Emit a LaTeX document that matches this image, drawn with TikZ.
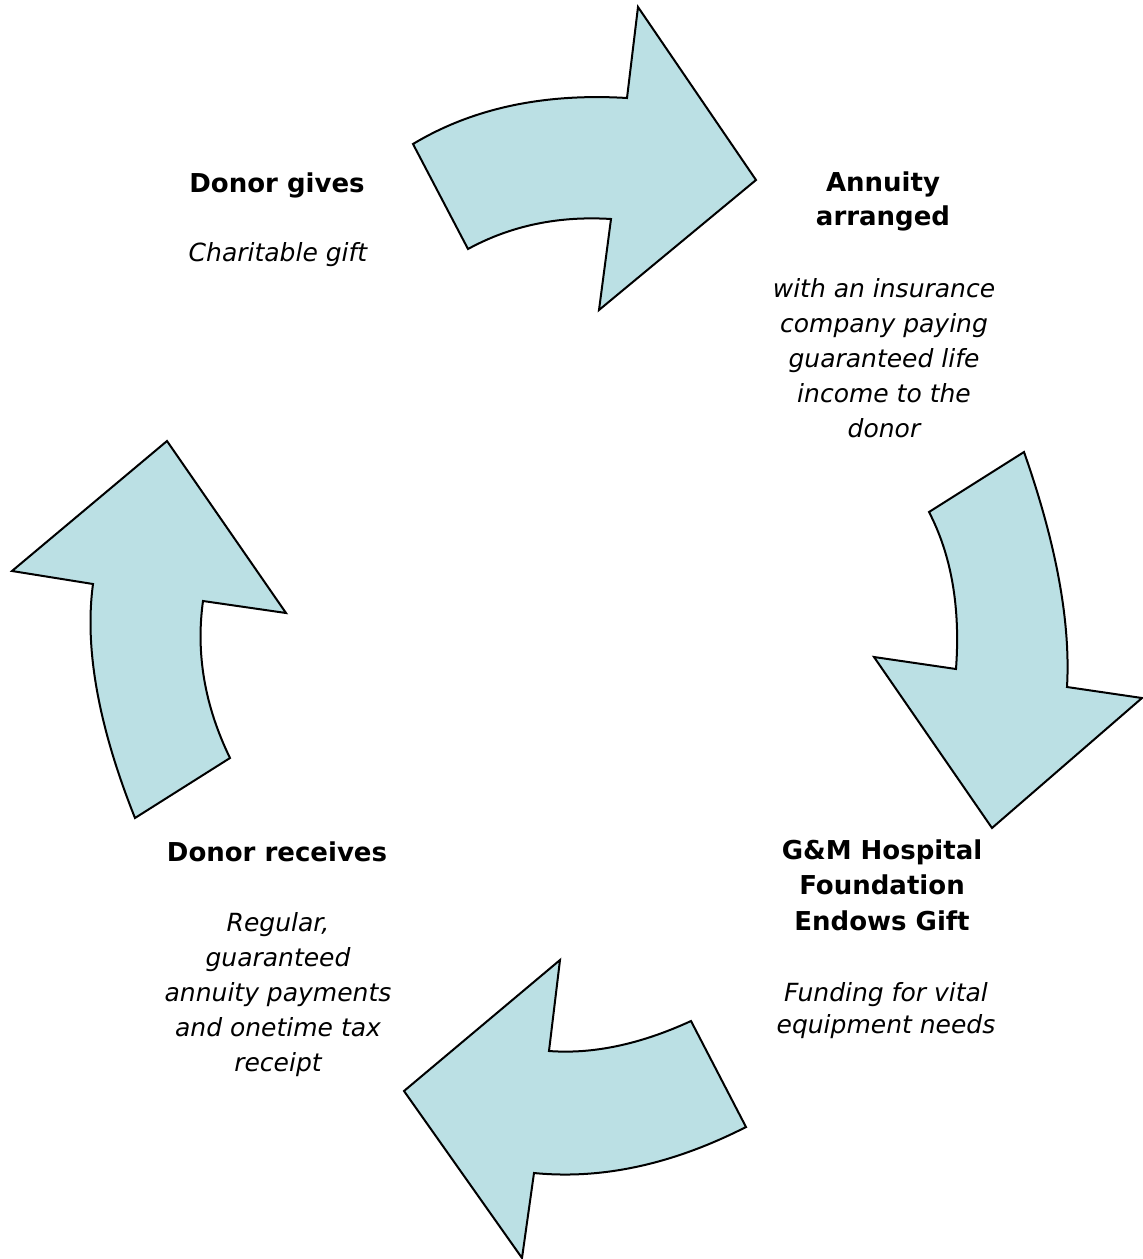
\documentclass[tikz,border=0pt]{standalone}
\usepackage{fontspec}
\setmainfont{DejaVu Sans}
\definecolor{arrowfill}{RGB}{187,224,228}
\begin{document}
\begin{tikzpicture}[x=1pt,y=-1pt,
  arr/.style={draw=black,fill=arrowfill,line width=2pt,line join=miter},
  ttl/.style={anchor=base,align=center,inner sep=0pt,font=\fontsize{26}{34}\selectfont\bfseries},
  dsc/.style={anchor=base,align=center,inner sep=0pt,font=\fontsize{25}{35}\selectfont\itshape}]
\useasboundingbox (0,0) rectangle (1143,1259);
% top arrow (pointing right)
\draw[arr] (413,144) .. controls (472.3,108.3) and (543.7,93) .. (627,98) -- (638,7) -- (756,180) -- (599,310) -- (611,219) .. controls (558.3,215.7) and (510.7,225.7) .. (468,249) -- cycle;
% right arrow (pointing down)
\draw[arr] (1024,452) .. controls (1056.3,544) and (1070.7,622.3) .. (1067,687) -- (1142,698) -- (992,828) -- (874,657) -- (956,669) .. controls (960.5,607.7) and (951.5,555.3) .. (929,512) -- cycle;
% bottom arrow (pointing left)
\draw[arr] (691,1021) -- (746,1127) .. controls (672.7,1164.3) and (602,1179.7) .. (534,1173) -- (522,1258) -- (404,1091) -- (560,960) -- (549,1051) .. controls (593,1054.3) and (640.3,1044.3) .. (691,1021) -- cycle;
% left arrow (pointing up)
\draw[arr] (135,818) -- (230,758) .. controls (204.7,706) and (195.7,653.7) .. (203,601) -- (286,613) -- (167,441) -- (12,571) -- (93,584) .. controls (84.3,648) and (98.3,726) .. (135,818) -- cycle;
% texts (anchor base = baseline of last line)
\node[ttl] (t1) at (277,192) {Donor gives};
\node[dsc] (d1) at (278,261) {Charitable gift};
\node[ttl,font=\fontsize{26}{33.5}\selectfont\bfseries] (t2) at (883,225) {Annuity\\arranged};
\node[dsc] (d2) at (884,437) {with an insurance\\company paying\\guaranteed life\\income to the\\donor};
\node[ttl] (t3) at (277,861) {Donor receives};
\node[dsc] (d3) at (278,1071) {Regular,\\guaranteed\\annuity payments\\and onetime tax\\receipt};
\node[ttl,font=\fontsize{26}{35.5}\selectfont\bfseries] (t4) at (882,930) {G\&M Hospital\\Foundation\\Endows Gift};
\node[dsc,font=\fontsize{25}{31.7}\selectfont\itshape] (d4) at (886,1033) {Funding for vital\\equipment needs};
\end{tikzpicture}
\end{document}
